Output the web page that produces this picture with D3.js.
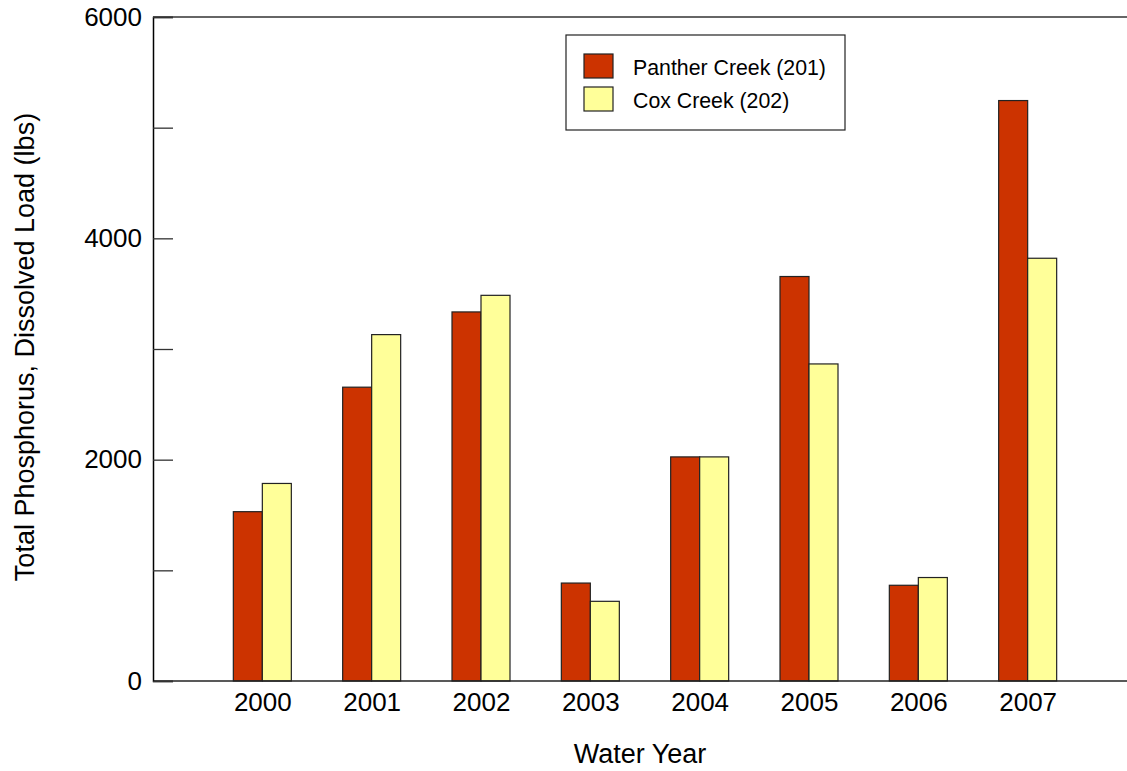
<!DOCTYPE html>
<html>
<head>
<meta charset="utf-8">
<script src="https://cdn.jsdelivr.net/npm/d3@7"></script>
<style>
  html, body { margin: 0; padding: 0; background: #fff; }
  svg { display: block; font-family: "Liberation Sans", Arial, sans-serif; }
</style>
</head>
<body>
<svg id="chart" width="1127" height="771"></svg>
<script>
// Annual dissolved total phosphorus load (lbs) by water year
const years = [2000, 2001, 2002, 2003, 2004, 2005, 2006, 2007];
const pantherCreek = [1530, 2655, 3335, 885, 2025, 3655, 865, 5245];
const coxCreek = [1785, 3130, 3485, 720, 2025, 2865, 935, 3820];
const seriesNames = ["Panther Creek (201)", "Cox Creek (202)"];
const seriesColors = ["#CC3300", "#FFFF99"];
const yTicks = [0, 1000, 2000, 3000, 4000, 5000, 6000];
const yTickLabels = ["0", "", "2000", "", "4000", "", "6000"];

const svg = d3.select("#chart");
const plotLeft = 153, plotTop = 17, plotBottom = 681, plotRight = 1137;

const x = d3.scaleLinear().domain([1999, 2008]).range([plotLeft, plotRight]);
const y = d3.scaleLinear().domain([0, 6000]).range([plotBottom, plotTop]);
const barW = 29;

// bars
const series = [pantherCreek, coxCreek];
series.forEach((vals, s) => {
  svg.append("g").selectAll("rect")
    .data(years.map((yr, i) => ({ yr, v: vals[i] })))
    .join("rect")
    .attr("x", d => x(d.yr) + (s === 0 ? -barW : 0))
    .attr("y", d => y(d.v))
    .attr("width", barW)
    .attr("height", d => y(0) - y(d.v))
    .attr("fill", seriesColors[s])
    .attr("stroke", "#222")
    .attr("stroke-width", 1.2);
});

// frame lines
svg.append("line").attr("x1", plotLeft).attr("x2", 1127).attr("y1", plotTop).attr("y2", plotTop)
  .attr("stroke", "#333").attr("stroke-width", 1.5);
svg.append("line").attr("x1", plotLeft).attr("x2", 1127).attr("y1", plotBottom).attr("y2", plotBottom)
  .attr("stroke", "#222").attr("stroke-width", 1.5);

// y axis with inward ticks
const yAxis = d3.axisLeft(y).tickValues(yTicks).tickSize(-20).tickPadding(11)
  .tickFormat((d, i) => yTickLabels[i]);
const gy = svg.append("g").attr("transform", `translate(${plotLeft},0)`).call(yAxis);
gy.select(".domain").attr("stroke", "#000").attr("stroke-width", 1.5);
gy.selectAll(".tick line").attr("stroke", "#333").attr("stroke-width", 1.3);
gy.selectAll(".tick text").attr("font-size", 26).attr("fill", "#000")
  .attr("font-family", "Liberation Sans, Arial, sans-serif");

// x axis labels
const xAxis = d3.axisBottom(x).tickValues(years).tickSize(0).tickPadding(12)
  .tickFormat(d3.format("d"));
const gx = svg.append("g").attr("transform", `translate(0,${plotBottom})`).call(xAxis);
gx.select(".domain").remove();
gx.selectAll(".tick text").attr("font-size", 26).attr("fill", "#000")
  .attr("font-family", "Liberation Sans, Arial, sans-serif");

// axis titles
svg.append("text").attr("x", 640).attr("y", 763)
  .attr("text-anchor", "middle").attr("font-size", 27).text("Water Year");
svg.append("text").attr("transform", "translate(34,347) rotate(-90)")
  .attr("text-anchor", "middle").attr("font-size", 27)
  .text("Total Phosphorus, Dissolved Load (lbs)");

// legend
const lg = svg.append("g").attr("transform", "translate(566,35)");
lg.append("rect").attr("width", 279).attr("height", 95)
  .attr("fill", "#fff").attr("stroke", "#222").attr("stroke-width", 1.2);
seriesNames.forEach((name, i) => {
  lg.append("rect").attr("x", 18).attr("y", 19 + i * 33).attr("width", 29).attr("height", 24)
    .attr("fill", seriesColors[i]).attr("stroke", "#222").attr("stroke-width", 1.2);
  lg.append("text").attr("x", 67).attr("y", 40 + i * 33).attr("font-size", 21.3).text(name);
});
</script>
</body>
</html>
